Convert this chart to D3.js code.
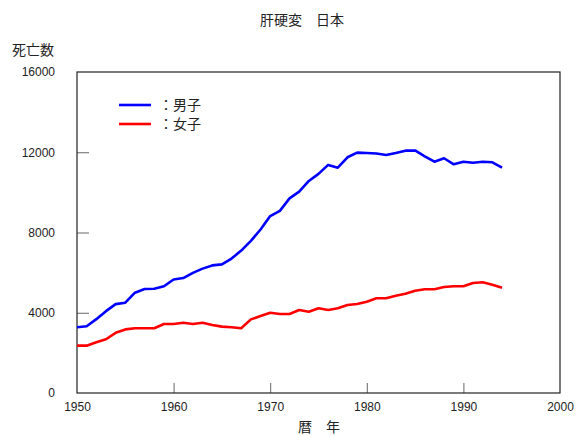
<!DOCTYPE html>
<html>
<head>
<meta charset="utf-8">
<script src="https://cdn.jsdelivr.net/npm/d3@7"></script>
<style>
  body { margin: 0; background: #fff; }
  svg { display: block; }
  .jp { font-family: "Noto Sans CJK JP", sans-serif; }
  .num { font-family: "Liberation Sans", Arial, sans-serif; }
</style>
</head>
<body>
<svg id="chart" width="583" height="436"></svg>
<script>
// Deaths from liver cirrhosis in Japan, by sex, 1950–1994
const years = d3.range(1950, 1995);
const male = [
  3280, 3330, 3680, 4080, 4430, 4500, 5000, 5180, 5200, 5320,
  5660, 5730, 5990, 6200, 6360, 6410, 6700, 7100, 7580, 8150,
  8820, 9080, 9700, 10040, 10570, 10920, 11370, 11230, 11750, 11980,
  11960, 11940, 11860, 11960, 12080, 12090, 11800, 11530, 11700, 11400,
  11530, 11480, 11530, 11500, 11230
];
const female = [
  2360, 2360, 2530, 2680, 3000, 3170, 3230, 3230, 3230, 3440,
  3440, 3500, 3440, 3500, 3390, 3310, 3280, 3230, 3670, 3840,
  4000, 3940, 3940, 4140, 4050, 4220, 4140, 4220, 4390, 4440,
  4550, 4720, 4720, 4850, 4950, 5100, 5170, 5170, 5280, 5320,
  5320, 5480, 5520, 5400, 5250
];
const xTicks = [1950, 1960, 1970, 1980, 1990, 2000];
const yTicks = [0, 4000, 8000, 12000, 16000];
const seriesNames = ["：男子", "：女子"];
const seriesColors = ["#0000ff", "#ff0000"];

const svg = d3.select("#chart");
const L = 77, R = 560, T = 72, B = 393;

const x = d3.scaleLinear().domain([1950, 2000]).range([L, R]);
const y = d3.scaleLinear().domain([0, 16000]).range([B, T]);

// title
svg.append("text").attr("class", "jp")
  .attr("x", 302).attr("y", 25).attr("text-anchor", "middle")
  .attr("font-size", 14).attr("fill", "#222")
  .text("肝硬変　日本");

// y-axis title
svg.append("text").attr("class", "jp")
  .attr("x", 12).attr("y", 55)
  .attr("font-size", 14).attr("fill", "#222")
  .text("死亡数");

// x-axis title
svg.append("text").attr("class", "jp")
  .attr("x", 319).attr("y", 432).attr("text-anchor", "middle")
  .attr("font-size", 14).attr("fill", "#222")
  .text("暦　年");

// y axis: inner ticks, labels to the left
const yAxis = d3.axisLeft(y).tickValues(yTicks).tickSize(-12).tickPadding(22)
  .tickFormat(d3.format("d"));
const gy = svg.append("g").attr("transform", `translate(${L},0)`).call(yAxis);
gy.select(".domain").remove();
gy.selectAll(".tick line").attr("stroke", "#666");
gy.selectAll(".tick text").attr("class", "num").attr("font-size", 12).attr("fill", "#222");
gy.selectAll(".tick").filter(d => d === 0 || d === 16000).select("line").remove();

// x axis: inner ticks, labels below
const xAxis = d3.axisBottom(x).tickValues(xTicks).tickSize(-10).tickPadding(9)
  .tickFormat(d3.format("d"));
const gx = svg.append("g").attr("transform", `translate(0,${B})`).call(xAxis);
gx.select(".domain").remove();
gx.selectAll(".tick line").attr("stroke", "#666");
gx.selectAll(".tick text").attr("class", "num").attr("font-size", 12).attr("fill", "#222");
gx.selectAll(".tick").filter(d => d === 1950 || d === 2000).select("line").remove();

// frame
svg.append("rect")
  .attr("x", L).attr("y", T).attr("width", R - L).attr("height", B - T)
  .attr("fill", "none").attr("stroke", "#222").attr("stroke-width", 1.2);

// series lines
const line = d3.line().x((d, i) => x(years[i])).y(d => y(d));
[male, female].forEach((vals, k) => {
  svg.append("path").datum(vals)
    .attr("d", line)
    .attr("fill", "none")
    .attr("stroke", seriesColors[k])
    .attr("stroke-width", 2.6)
    .attr("stroke-linejoin", "round");
});

// legend
const lg = svg.append("g");
seriesNames.forEach((name, k) => {
  const ly = 105 + k * 19;
  lg.append("line")
    .attr("x1", 119).attr("x2", 151).attr("y1", ly).attr("y2", ly)
    .attr("stroke", seriesColors[k]).attr("stroke-width", 2.6);
  lg.append("text").attr("class", "jp")
    .attr("x", 159).attr("y", ly + 5)
    .attr("font-size", 14).attr("fill", "#222")
    .text(name);
});
</script>
</body>
</html>
